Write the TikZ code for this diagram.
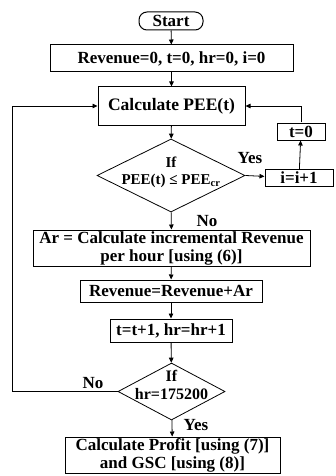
\documentclass[tikz,border=0pt]{standalone}
\usepackage{fontspec}
\setmainfont{Liberation Serif}
\usetikzlibrary{shapes.geometric,arrows.meta}
\pgfdeclarelayer{bg}
\pgfsetlayers{bg,main}
\tikzset{
    every node/.style={inner sep=0mm, font=\bfseries\fontsize{17}{18}\selectfont}
}
\tikzset{proc/.style={rectangle, draw, line width=1pt, align=center}}
\tikzset{term/.style={rectangle, rounded corners=8pt, draw, line width=1pt}}
\tikzset{cond/.style={diamond, draw, line width=0.8pt}}
\tikzset{flow/.style={-{Triangle[length=5pt, width=4.5pt]}, line width=0.8pt}}

\begin{document}
\begin{tikzpicture}[x=1pt, y=-1pt]
    \useasboundingbox (0,0) rectangle (335,476);
    \node (start) [term, minimum width=64pt, minimum height=18pt] at (171,21) {Start};
    \node (init) [proc, minimum width=243pt, minimum height=27pt] at (171.5,58.5) {Revenue=0, t=0, hr=0, i=0};
    \node (calc) [proc, minimum width=147pt, minimum height=38pt, font=\bfseries\fontsize{17.5}{18}\selectfont] at (171.5,106) {Calculate PEE(t)};
    \node (d1) [cond, minimum width=148pt, minimum height=73pt] at (171,175.5) {};
    \node (d1txt) [align=center, font=\bfseries\fontsize{15}{17}\selectfont] at (171,172) {If\\PEE(t) ≤ PEE\textsubscript{cr}};
    \node (inc) [proc, minimum width=68pt, minimum height=17pt] at (299,178) {i=i+1};
    \node (reset) [proc, minimum width=48pt, minimum height=17pt] at (301,131.5) {t=0};
    \node (incr) [proc, minimum width=277pt, minimum height=36pt] at (171.5,248) {Ar = Calculate incremental Revenue\\per hour [using (6)]};
    \node (add) [proc, minimum width=182pt, minimum height=22pt] at (171,291) {Revenue=Revenue+Ar};
    \node (upd) [proc, minimum width=122pt, minimum height=23pt] at (171,330.5) {t=t+1, hr=hr+1};
    \node (d2) [cond, minimum width=107pt, minimum height=57pt] at (171.5,391.5) {};
    \node (d2txt) [align=center, font=\bfseries\fontsize{16}{18}\selectfont] at (171.5,384.5) {If\\hr=175200};
    \node (final) [proc, minimum width=215pt, minimum height=36pt] at (172.5,455) {Calculate Profit [using (7)]\\and GSC [using (8)]};

    \node (yes1) at (250,158) {Yes};
    \node (no1) at (207,221) {No};
    \node (no2) at (93,383) {No};
    \node (yes2) at (196,425) {Yes};
    \coordinate (back) at (12,391.5);

    \begin{pgfonlayer}{bg}
        \draw[flow] (start) -- (init);
        \draw[flow] (init) -- (calc);
        \draw[flow] (calc) -- (d1);
        \draw[flow] (d1.east) -- (inc);
        \draw[flow] (inc) -- (reset);
        \draw[flow] (reset) |- (calc);
        \draw[flow] (d1) -- (incr);
        \draw[flow] (incr) -- (add);
        \draw[flow] (add) -- (upd);
        \draw[flow] (upd) -- (d2);
        \draw[flow] (d2.west) -- (back) |- (calc.west);
        \draw[flow] (d2) -- (final);
    \end{pgfonlayer}
\end{tikzpicture}
\end{document}
